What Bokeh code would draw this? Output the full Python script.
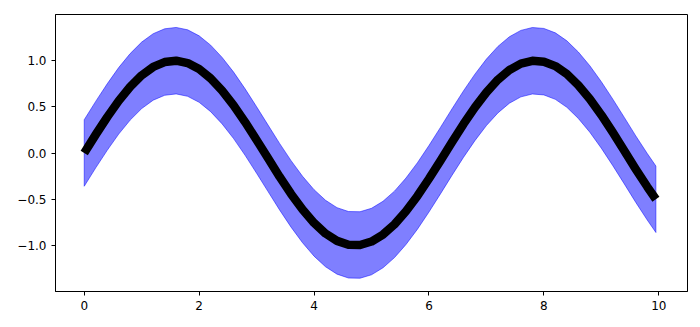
from bokeh.plotting import figure
from bokeh.models import Range1d, FixedTicker
from bokeh.embed import file_html
from bokeh.resources import INLINE

# Values
x_vals = [0.0, 0.2, 0.4, 0.6, 0.8, 1.0, 1.2, 1.4, 1.6, 1.8,
          2.0, 2.2, 2.4, 2.6, 2.8, 3.0, 3.2, 3.4, 3.6, 3.8,
          4.0, 4.2, 4.4, 4.6, 4.8, 5.0, 5.2, 5.4, 5.6, 5.8,
          6.0, 6.2, 6.4, 6.6, 6.8, 7.0, 7.2, 7.4, 7.6, 7.8,
          8.0, 8.2, 8.4, 8.6, 8.8, 9.0, 9.2, 9.4, 9.6, 9.8, 9.95]
y_vals = [0.000, 0.199, 0.389, 0.565, 0.717, 0.841, 0.932, 0.985, 1.000, 0.974,
          0.909, 0.808, 0.675, 0.516, 0.335, 0.141, -0.058, -0.256, -0.443, -0.612,
          -0.757, -0.872, -0.952, -0.994, -0.996, -0.959, -0.883, -0.773, -0.631, -0.465,
          -0.279, -0.083, 0.117, 0.312, 0.494, 0.657, 0.794, 0.899, 0.968, 0.999,
          0.989, 0.941, 0.855, 0.734, 0.585, 0.412, 0.223, 0.025, -0.175, -0.366, -0.501]
band_half_width = 0.36

x_ticks = [0, 2, 4, 6, 8, 10]
x_tick_labels = ["0", "2", "4", "6", "8", "10"]
y_ticks = [-1.0, -0.5, 0.0, 0.5, 1.0]
y_tick_labels = ["\u22121.0", "\u22120.5", "0.0", "0.5", "1.0"]

upper = [v + band_half_width for v in y_vals]
lower = [v - band_half_width for v in y_vals]

p = figure(width=700, height=327, output_backend="svg", toolbar_location=None,
           x_range=Range1d(-0.5, 10.5), y_range=Range1d(-1.5, 1.5),
           min_border_left=55, min_border_right=13, min_border_top=14, min_border_bottom=36)
p.xgrid.visible = False
p.ygrid.visible = False
p.outline_line_color = "black"
p.outline_line_width = 1
p.outline_line_alpha = 1
p.background_fill_color = "white"
p.border_fill_color = "white"

p.patch(x_vals + x_vals[::-1], upper + lower[::-1],
        fill_color="blue", fill_alpha=0.5, line_color="blue", line_alpha=0.5, line_width=1)
p.line(x_vals, y_vals, line_color="black", line_width=8.5, line_cap="butt", line_join="round")

for ax, ticks, labels in ((p.xaxis[0], x_ticks, x_tick_labels), (p.yaxis[0], y_ticks, y_tick_labels)):
    ax.ticker = FixedTicker(ticks=ticks)
    ax.major_label_overrides = {t: l for t, l in zip(ticks, labels)}
    ax.minor_tick_line_color = None
    ax.major_tick_out = 4
    ax.major_tick_in = 0
    ax.major_tick_line_color = "black"
    ax.axis_line_color = "black"
    ax.major_label_text_font = "DejaVu Sans"
    ax.major_label_text_font_size = "12px"
    ax.major_label_text_color = "black"
    ax.major_label_standoff = 5

open("out.html", "w").write(file_html(p, INLINE))
